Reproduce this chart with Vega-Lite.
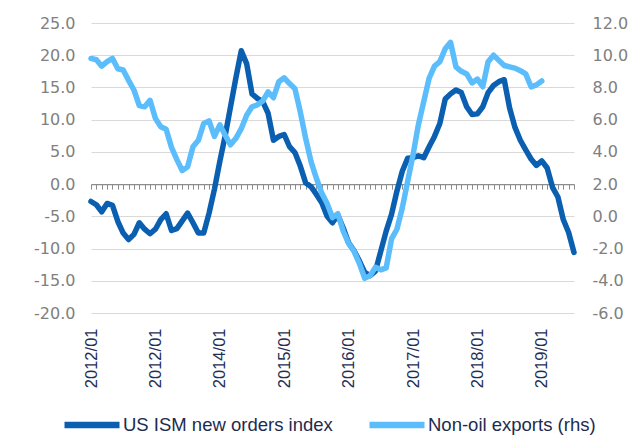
{
  "$schema": "https://vega.github.io/schema/vega-lite/v6.json",
  "width": 483,
  "height": 290,
  "padding": {"left": 33, "top": 15, "right": 5, "bottom": 0},
  "background": "white",
  "config": {"view": {"stroke": null}, "font": "Liberation Sans"},
  "data": {"values": [
    {"month": "2012/01", "ism": -2.7, "exports": 9.80},
    {"month": "2012/02", "ism": -3.2, "exports": 9.72},
    {"month": "2012/03", "ism": -4.3, "exports": 9.32},
    {"month": "2012/04", "ism": -3.0, "exports": 9.60},
    {"month": "2012/05", "ism": -3.3, "exports": 9.80},
    {"month": "2012/06", "ism": -5.8, "exports": 9.16},
    {"month": "2012/07", "ism": -7.6, "exports": 9.08},
    {"month": "2012/08", "ism": -8.6, "exports": 8.44},
    {"month": "2012/09", "ism": -7.8, "exports": 7.84},
    {"month": "2012/10", "ism": -6.0, "exports": 6.88},
    {"month": "2012/11", "ism": -7.0, "exports": 6.80},
    {"month": "2012/12", "ism": -7.7, "exports": 7.20},
    {"month": "2013/01", "ism": -7.0, "exports": 6.08},
    {"month": "2013/02", "ism": -5.5, "exports": 5.56},
    {"month": "2013/03", "ism": -4.6, "exports": 5.40},
    {"month": "2013/04", "ism": -7.2, "exports": 4.28},
    {"month": "2013/05", "ism": -6.9, "exports": 3.52},
    {"month": "2013/06", "ism": -5.7, "exports": 2.84},
    {"month": "2013/07", "ism": -4.5, "exports": 3.08},
    {"month": "2013/08", "ism": -6.0, "exports": 4.32},
    {"month": "2013/09", "ism": -7.6, "exports": 4.72},
    {"month": "2013/10", "ism": -7.6, "exports": 5.76},
    {"month": "2013/11", "ism": -4.5, "exports": 5.92},
    {"month": "2013/12", "ism": -0.8, "exports": 4.96},
    {"month": "2014/01", "ism": 3.5, "exports": 5.68},
    {"month": "2014/02", "ism": 7.5, "exports": 5.04},
    {"month": "2014/03", "ism": 12.0, "exports": 4.44},
    {"month": "2014/04", "ism": 16.5, "exports": 4.84},
    {"month": "2014/05", "ism": 20.7, "exports": 5.44},
    {"month": "2014/06", "ism": 18.7, "exports": 6.28},
    {"month": "2014/07", "ism": 14.0, "exports": 6.80},
    {"month": "2014/08", "ism": 13.3, "exports": 6.92},
    {"month": "2014/09", "ism": 12.8, "exports": 7.16},
    {"month": "2014/10", "ism": 11.0, "exports": 7.72},
    {"month": "2014/11", "ism": 6.8, "exports": 7.36},
    {"month": "2014/12", "ism": 7.4, "exports": 8.36},
    {"month": "2015/01", "ism": 7.7, "exports": 8.60},
    {"month": "2015/02", "ism": 5.8, "exports": 8.24},
    {"month": "2015/03", "ism": 4.9, "exports": 7.92},
    {"month": "2015/04", "ism": 2.8, "exports": 6.48},
    {"month": "2015/05", "ism": 0.2, "exports": 4.84},
    {"month": "2015/06", "ism": -0.4, "exports": 3.40},
    {"month": "2015/07", "ism": -1.6, "exports": 2.36},
    {"month": "2015/08", "ism": -2.9, "exports": 1.44},
    {"month": "2015/09", "ism": -5.0, "exports": 0.80},
    {"month": "2015/10", "ism": -6.0, "exports": -0.08},
    {"month": "2015/11", "ism": -4.8, "exports": 0.16},
    {"month": "2015/12", "ism": -6.8, "exports": -0.92},
    {"month": "2016/01", "ism": -9.1, "exports": -1.68},
    {"month": "2016/02", "ism": -10.3, "exports": -2.16},
    {"month": "2016/03", "ism": -11.9, "exports": -2.92},
    {"month": "2016/04", "ism": -13.7, "exports": -3.84},
    {"month": "2016/05", "ism": -14.2, "exports": -3.68},
    {"month": "2016/06", "ism": -13.5, "exports": -3.16},
    {"month": "2016/07", "ism": -10.4, "exports": -3.32},
    {"month": "2016/08", "ism": -7.3, "exports": -3.20},
    {"month": "2016/09", "ism": -4.7, "exports": -1.40},
    {"month": "2016/10", "ism": -1.1, "exports": -0.80},
    {"month": "2016/11", "ism": 2.0, "exports": 0.52},
    {"month": "2016/12", "ism": 4.0, "exports": 2.16},
    {"month": "2017/01", "ism": 4.1, "exports": 3.80},
    {"month": "2017/02", "ism": 4.4, "exports": 5.68},
    {"month": "2017/03", "ism": 4.1, "exports": 7.12},
    {"month": "2017/04", "ism": 5.8, "exports": 8.56},
    {"month": "2017/05", "ism": 7.4, "exports": 9.32},
    {"month": "2017/06", "ism": 9.4, "exports": 9.60},
    {"month": "2017/07", "ism": 13.2, "exports": 10.40},
    {"month": "2017/08", "ism": 14.0, "exports": 10.80},
    {"month": "2017/09", "ism": 14.6, "exports": 9.28},
    {"month": "2017/10", "ism": 14.2, "exports": 9.00},
    {"month": "2017/11", "ism": 12.0, "exports": 8.84},
    {"month": "2017/12", "ism": 10.8, "exports": 8.28},
    {"month": "2018/01", "ism": 10.9, "exports": 8.52},
    {"month": "2018/02", "ism": 12.0, "exports": 8.04},
    {"month": "2018/03", "ism": 14.2, "exports": 9.60},
    {"month": "2018/04", "ism": 15.3, "exports": 10.00},
    {"month": "2018/05", "ism": 15.9, "exports": 9.68},
    {"month": "2018/06", "ism": 16.2, "exports": 9.36},
    {"month": "2018/07", "ism": 11.8, "exports": 9.28},
    {"month": "2018/08", "ism": 8.8, "exports": 9.20},
    {"month": "2018/09", "ism": 6.8, "exports": 9.04},
    {"month": "2018/10", "ism": 5.3, "exports": 8.84},
    {"month": "2018/11", "ism": 3.9, "exports": 8.04},
    {"month": "2018/12", "ism": 2.9, "exports": 8.16},
    {"month": "2019/01", "ism": 3.6, "exports": 8.40},
    {"month": "2019/02", "ism": 2.5, "exports": null},
    {"month": "2019/03", "ism": -0.5, "exports": null},
    {"month": "2019/04", "ism": -2.0, "exports": null},
    {"month": "2019/05", "ism": -5.5, "exports": null},
    {"month": "2019/06", "ism": -7.5, "exports": null},
    {"month": "2019/07", "ism": -10.6, "exports": null}
  ]},
  "layer": [
    {
      "mark": {"type": "line", "strokeWidth": 5.5, "strokeJoin": "round", "strokeCap": "round"},
      "encoding": {
        "x": {
          "field": "month", "type": "ordinal",
          "scale": {"type": "point", "padding": 0},
          "axis": {
            "orient": "bottom", "offset": -128.9, "labels": false, "title": null,
            "ticks": true, "tickSize": 5, "tickColor": "#8c8c8c", "tickWidth": 1,
            "domain": true, "domainColor": "#8c8c8c", "domainWidth": 1.2, "grid": false
          }
        },
        "y": {
          "field": "ism", "type": "quantitative",
          "scale": {"domain": [-20, 25], "nice": false, "zero": false},
          "axis": {
            "orient": "left", "title": null,
            "values": [-20, -15, -10, -5, 0, 5, 10, 15, 20, 25],
            "labelExpr": "(datum.value < 0 ? '-' : '') + format(abs(datum.value), '.1f')",
            "grid": true, "gridColor": "#d9d9d9", "gridWidth": 1,
            "ticks": false, "domain": false, "labelPadding": 16,
            "labelFont": "DejaVu Sans", "labelFontSize": 16, "labelColor": "#808080"
          }
        },
        "color": {
          "datum": "US ISM new orders index", "type": "nominal",
          "scale": {"domain": ["US ISM new orders index", "Non-oil exports (rhs)"], "range": ["#0B5FB0", "#5BBDFB"]},
          "legend": {
            "orient": "none", "legendX": -30, "legendY": 371, "direction": "horizontal",
            "title": null, "symbolType": "stroke", "symbolSize": 3025, "symbolStrokeWidth": 6.5,
            "labelFontSize": 18.5, "labelFont": "Liberation Sans", "labelColor": "#1d2b4f",
            "labelLimit": 400, "columnPadding": 23, "labelOffset": 0
          }
        }
      }
    },
    {
      "mark": {"type": "line", "strokeWidth": 5.5, "strokeJoin": "round", "strokeCap": "round"},
      "encoding": {
        "x": {
          "field": "month", "type": "ordinal",
          "scale": {"type": "point", "padding": 0},
          "axis": {
            "orient": "bottom", "title": null,
            "values": ["2012/01", "2013/01", "2014/01", "2015/01", "2016/01", "2017/01", "2018/01", "2019/01"],
            "labelExpr": "datum.value == '2013/01' ? '2012/01' : datum.value",
            "labelAngle": -90, "labelAlign": "right", "labelBaseline": "middle",
            "labelPadding": 15, "labelFontSize": 16.5, "labelColor": "#1f3057",
            "labelOverlap": false, "ticks": false, "domain": false, "grid": false
          }
        },
        "y": {
          "field": "exports", "type": "quantitative",
          "scale": {"domain": [-6, 12], "nice": false, "zero": false},
          "axis": {
            "orient": "right", "title": null,
            "values": [-6, -4, -2, 0, 2, 4, 6, 8, 10, 12],
            "labelExpr": "(datum.value < 0 ? '-' : '') + format(abs(datum.value), '.1f')",
            "grid": false, "ticks": false, "domain": false, "labelPadding": 18,
            "labelFont": "DejaVu Sans", "labelFontSize": 16, "labelColor": "#808080"
          }
        },
        "color": {"datum": "Non-oil exports (rhs)", "type": "nominal"}
      }
    }
  ],
  "resolve": {"scale": {"y": "independent"}, "axis": {"x": "independent"}}
}
